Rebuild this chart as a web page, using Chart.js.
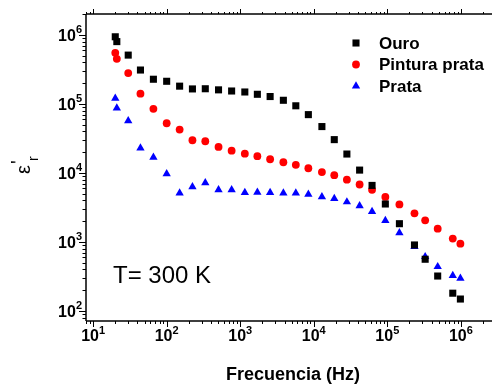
<!DOCTYPE html>
<html>
<head>
<meta charset="utf-8">
<script src="https://cdn.jsdelivr.net/npm/chart.js@4/dist/chart.umd.min.js"></script>
<style>
  html, body { margin: 0; padding: 0; background: #fff; }
  canvas { display: block; }
</style>
</head>
<body>
<canvas id="myChart" width="497" height="387"></canvas>
<script>
// frequency (Hz) and permittivity values
const freq = [20, 21, 30, 44, 66, 100, 150, 224, 335, 507, 764, 1155, 1710, 2550, 3860, 5700, 8440,
  12900, 19000, 28200, 42000, 62000, 94000, 146000, 234000, 327000, 484000, 776000, 985000];
const ouro = [9.4e5, 8.0e5, 5.1e5, 3.1e5, 2.28e5, 2.13e5, 1.81e5, 1.65e5, 1.66e5, 1.6e5, 1.54e5, 1.49e5,
  1.38e5, 1.28e5, 1.13e5, 9.4e4, 7.0e4, 4.7e4, 3.04e4, 1.88e4, 1.1e4, 6.6e3, 3.55e3, 1.84e3, 905, 562, 321, 181, 149];
const pintura = [5.5e5, 4.5e5, 2.8e5, 1.41e5, 8.5e4, 5.25e4, 4.25e4, 2.98e4, 2.88e4, 2.38e4, 2.1e4, 1.9e4,
  1.75e4, 1.58e4, 1.43e4, 1.31e4, 1.17e4, 1.03e4, 9.3e3, 8.0e3, 6.8e3, 5.7e3, 4.5e3, 3.5e3, 2.6e3, 2.06e3, 1.56e3, 1.12e3, 945];
const prata = [1.21e5, 8.7e4, 5.7e4, 2.3e4, 1.69e4, 9.7e3, 5.1e3, 6.3e3, 7.2e3, 5.7e3, 5.7e3, 5.2e3,
  5.25e3, 5.2e3, 5.1e3, 5.1e3, 4.9e3, 4.5e3, 4.25e3, 3.8e3, 3.33e3, 2.75e3, 2.04e3, 1.36e3, 855, 612, 438, 325, 298];

const seriesNames = ['Ouro', 'Pintura prata', 'Prata'];
const xExponents = [1, 2, 3, 4, 5, 6];
const yExponents = [2, 3, 4, 5, 6];

function pts(arr) {
  return freq.map((f, i) => ({ x: f, y: arr[i] }));
}

const FONT = '"Liberation Sans", Arial, sans-serif';

// draws axes, ticks, labels, legend and note by hand (superscripts)
const frame = {
  id: 'frame',
  afterDraw(chart) {
    const ctx = chart.ctx;
    const a = chart.chartArea;
    const xs = chart.scales.x, ys = chart.scales.y;
    ctx.save();
    ctx.strokeStyle = '#000';
    ctx.fillStyle = '#000';
    ctx.lineWidth = 1.5;

    ctx.beginPath();
    ctx.moveTo(a.left, a.top); ctx.lineTo(a.right, a.top);
    ctx.moveTo(a.left, a.top); ctx.lineTo(a.left, a.bottom);
    ctx.moveTo(a.left, a.bottom); ctx.lineTo(a.right, a.bottom);
    ctx.stroke();

    ctx.lineWidth = 1;
    // x ticks, bottom and top
    for (let d = 0; d <= 7; d++) {
      for (let k = 1; k <= 9; k++) {
        const v = k * Math.pow(10, d);
        if (v < xs.min || v > xs.max) continue;
        const px = Math.round(xs.getPixelForValue(v)) + 0.5;
        const major = k === 1;
        ctx.beginPath();
        ctx.moveTo(px, a.bottom); ctx.lineTo(px, a.bottom + (major ? 6 : 3));
        ctx.moveTo(px, a.top); ctx.lineTo(px, a.top - (major ? 5 : 2));
        ctx.stroke();
      }
    }
    // y ticks, left
    for (let d = 0; d <= 7; d++) {
      for (let k = 1; k <= 9; k++) {
        const v = k * Math.pow(10, d);
        if (v < ys.min || v > ys.max) continue;
        const py = Math.round(ys.getPixelForValue(v)) + 0.5;
        const major = k === 1;
        ctx.beginPath();
        ctx.moveTo(a.left, py); ctx.lineTo(a.left - (major ? 7 : 3.5), py);
        ctx.stroke();
      }
    }

    // x tick labels
    ctx.textBaseline = 'alphabetic';
    xExponents.forEach(e => {
      const px = xs.getPixelForValue(Math.pow(10, e));
      ctx.font = 'bold 16px ' + FONT;
      const w1 = ctx.measureText('10').width;
      ctx.font = 'bold 11px ' + FONT;
      const w2 = ctx.measureText(String(e)).width;
      const x0 = px - (w1 + w2) / 2;
      ctx.font = 'bold 16px ' + FONT;
      ctx.textAlign = 'left';
      ctx.fillText('10', x0, a.bottom + 20);
      ctx.font = 'bold 11px ' + FONT;
      ctx.fillText(String(e), x0 + w1, a.bottom + 13);
    });
    // y tick labels
    yExponents.forEach(e => {
      const py = ys.getPixelForValue(Math.pow(10, e));
      ctx.font = 'bold 11px ' + FONT;
      const w2 = ctx.measureText(String(e)).width;
      ctx.textAlign = 'left';
      const xr = a.left - 4;
      ctx.fillText(String(e), xr - w2, py - 2);
      ctx.font = 'bold 16px ' + FONT;
      ctx.textAlign = 'right';
      ctx.fillText('10', xr - w2, py + 6);
    });

    // x title
    ctx.font = 'bold 18px ' + FONT;
    ctx.textAlign = 'center';
    ctx.fillText('Frecuencia (Hz)', 293, 380);

    // y title: epsilon prime with subscript r
    ctx.save();
    ctx.translate(30, 174);
    ctx.rotate(-Math.PI / 2);
    ctx.textAlign = 'left';
    ctx.font = '20px ' + FONT;
    ctx.fillText('\u03b5', 0, 0);
    const we = ctx.measureText('\u03b5').width;
    ctx.fillText('\'', we + 1, -5);
    ctx.font = '14px ' + FONT;
    ctx.fillText('r', we + 4, 8);
    ctx.restore();

    // note
    ctx.font = '24px ' + FONT;
    ctx.textAlign = 'left';
    ctx.fillText('T= 300 K', 113, 283);

    // legend
    const rowY = [43, 64.5, 86];
    chart.data.datasets.forEach((ds, i) => {
      const style = { pointStyle: ds.pointStyle, radius: ds.pointRadius, rotation: 0, borderWidth: 0 };
      ctx.fillStyle = ds.backgroundColor;
      ctx.strokeStyle = ds.backgroundColor;
      ctx.lineWidth = 0;
      if (Chart.helpers && Chart.helpers.drawPoint) {
        Chart.helpers.drawPoint(ctx, style, 356, rowY[i]);
      }
      ctx.fillStyle = '#000';
      ctx.font = 'bold 17px ' + FONT;
      ctx.textBaseline = 'middle';
      ctx.fillText(seriesNames[i], 379, rowY[i] + 1);
      ctx.textBaseline = 'alphabetic';
    });
    ctx.restore();
  }
};

new Chart(document.getElementById('myChart'), {
  type: 'scatter',
  data: {
    datasets: [
      { label: seriesNames[0], data: pts(ouro), pointStyle: 'rect', pointRadius: 5,
        backgroundColor: '#000000', borderColor: '#000000', borderWidth: 0 },
      { label: seriesNames[1], data: pts(pintura), pointStyle: 'circle', pointRadius: 3.9,
        backgroundColor: '#ff0000', borderColor: '#ff0000', borderWidth: 0 },
      { label: seriesNames[2], data: pts(prata), pointStyle: 'triangle', pointRadius: 4.8,
        backgroundColor: '#0000ff', borderColor: '#0000ff', borderWidth: 0 }
    ]
  },
  options: {
    responsive: false,
    animation: false,
    devicePixelRatio: 1,
    layout: { padding: { left: 86, top: 14, right: 0, bottom: 66 } },
    scales: {
      x: { type: 'logarithmic', min: 8, max: 2.65e6, display: false },
      y: { type: 'logarithmic', min: 71.6, max: 2.01e6, display: false }
    },
    plugins: { legend: { display: false }, tooltip: { enabled: false } },
    elements: { point: { hoverRadius: 5 } }
  },
  plugins: [frame]
});
</script>
</body>
</html>
